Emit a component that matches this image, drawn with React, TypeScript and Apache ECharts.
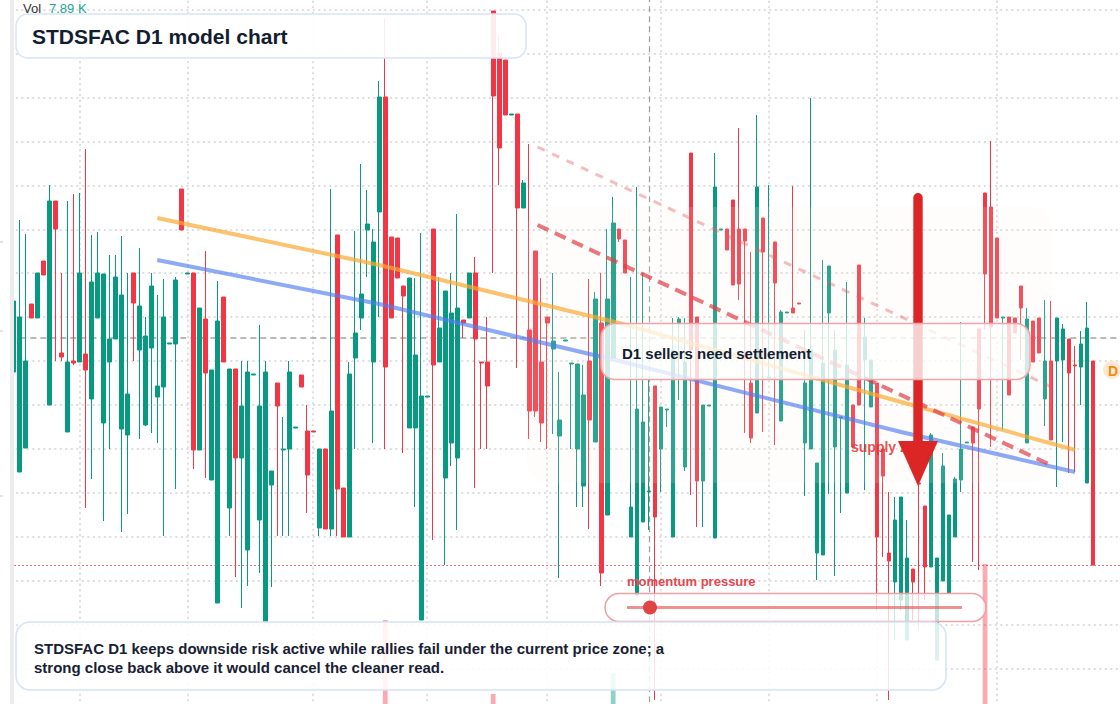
import React, { useEffect, useRef } from 'react';
import * as echarts from 'echarts';

// ---- candle data (bar 0 is the partially hidden first bar) ----
const opens = [
  42.8, 32.8, 35.2, 49.6, 48.2, 53.9, 39.5, 59.9, 44.7, 36.8,
  43.9, 43.8, 44.6, 40.1, 48.2, 37.7, 43.8, 46.1, 37.1, 36.5,
  52.7, 45.0, 37.5, 45.2, 40.3, 41.3, 45.6, 45.6, 61.1, 52.6,
  52.7, 35.0, 48.1, 32.0, 19.7, 50.3, 29.2, 43.1, 34.2, 25.0,
  42.5, 28.0, 17.8, 31.5, 41.7, 35.0, 35.1, 37.2, 42.5, 36.9,
  36.9, 27.2, 35.1, 27.1, 56.5, 31.2, 26.3, 44.2, 48.2, 57.0,
  43.8, 58.8, 70.3, 56.3, 56.2, 51.4, 37.2, 37.2, 18.0, 40.3,
  57.1, 43.8, 32.2, 35.7, 34.2, 48.0, 48.2, 52.7, 43.8, 43.8,
  78.9, 74.7, 74.0, 68.5, 68.6, 59.2, 47.0, 54.9, 43.8, 48.3,
  45.1, 36.4, 45.9, 43.6, 35.1, 31.4, 43.9, 35.8, 47.7, 28.5,
  44.2, 57.1, 56.0, 26.3, 20.5, 27.8, 30.8, 41.4, 35.1, 39.0,
  26.3, 47.6, 33.3, 64.7, 48.3, 31.9, 39.4, 26.2, 57.0, 57.1,
  60.0, 57.1, 57.1, 41.7, 38.7, 58.2, 42.2, 55.8, 37.9, 48.7,
  49.2, 49.7, 35.7, 35.1, 24.7, 24.5, 48.7, 35.3, 38.2, 30.7,
  39.5, 53.5, 44.0, 39.3, 41.7, 35.1, 24.7, 21.8, 20.0, 16.0,
  23.1, 31.7, 29.4, 23.3, 14.0, 21.9, 20.7, 26.3, 32.0, 35.7,
  37.3, 47.1, 60.7, 59.3, 56.2, 48.2, 48.3, 48.2, 51.4, 35.7,
  47.9, 48.2, 40.1, 43.9, 43.9, 44.0, 46.1, 43.5, 43.3, 31.7,
  43.9
];
const closes = [
  49.9, 48.3, 43.9, 48.2, 52.7, 52.5, 59.9, 57.1, 44.3, 43.8,
  43.7, 52.7, 43.0, 51.8, 52.7, 52.6, 46.1, 52.3, 50.5, 40.6,
  49.7, 49.4, 46.4, 51.4, 41.4, 48.3, 45.7, 52.0, 57.0, 52.7,
  35.0, 49.2, 42.7, 43.0, 47.9, 43.8, 43.1, 34.2, 39.4, 42.8,
  42.6, 39.4, 42.8, 32.9, 39.4, 35.1, 42.8, 37.3, 41.3, 32.5,
  36.8, 35.1, 27.1, 38.9, 31.1, 26.3, 42.6, 46.7, 50.6, 57.6,
  55.8, 70.3, 43.3, 48.2, 52.2, 50.4, 52.2, 44.5, 40.4, 40.4,
  43.5, 47.2, 50.9, 48.7, 49.2, 47.7, 52.7, 46.1, 43.7, 41.4,
  70.4, 65.2, 68.5, 68.6, 59.2, 61.7, 38.9, 38.9, 37.7, 47.7,
  45.9, 38.0, 46.0, 43.7, 43.6, 40.5, 38.0, 50.1, 22.7, 50.1,
  57.7, 56.1, 52.7, 29.3, 39.1, 37.8, 30.9, 28.3, 39.3, 39.1,
  45.0, 48.1, 43.8, 45.0, 31.9, 39.5, 39.5, 61.3, 57.1, 55.0,
  51.5, 51.6, 55.9, 36.2, 61.3, 54.8, 42.3, 51.7, 48.8, 48.8,
  48.7, 49.6, 41.7, 45.0, 33.7, 43.7, 53.4, 45.0, 38.3, 43.5,
  35.3, 39.5, 46.3, 44.0, 26.3, 32.4, 23.9, 28.0, 30.3, 24.2,
  21.8, 31.6, 23.3, 36.5, 24.2, 33.4, 28.5, 32.1, 35.1, 35.8,
  35.7, 39.1, 52.6, 47.3, 48.2, 48.3, 40.5, 46.7, 49.2, 48.1,
  43.8, 44.7, 43.9, 36.0, 48.2, 47.1, 42.7, 43.4, 45.6, 47.2,
  23.5
];
const lows = [
  42.8, 32.8, 35.2, 48.2, 48.2, 52.5, 39.5, 43.9, 43.9, 36.8,
  43.5, 43.8, 29.2, 32.1, 48.2, 27.9, 35.1, 46.1, 26.8, 28.6,
  43.9, 36.1, 37.4, 36.7, 35.7, 26.4, 45.6, 31.1, 57.0, 52.6,
  33.1, 35.0, 32.2, 32.0, 19.7, 43.8, 26.4, 22.3, 19.2, 21.4,
  42.5, 22.7, 17.8, 21.3, 26.4, 26.4, 26.4, 37.2, 41.3, 28.7,
  36.8, 26.4, 27.1, 26.4, 26.4, 26.3, 26.3, 35.1, 47.0, 52.3,
  35.7, 48.3, 35.1, 48.2, 52.2, 34.7, 37.2, 29.3, 18.0, 40.3,
  26.0, 43.8, 23.5, 33.4, 27.0, 46.2, 48.2, 31.2, 35.1, 35.1,
  52.7, 61.5, 68.5, 68.5, 43.2, 59.2, 36.1, 38.3, 35.8, 35.1,
  36.6, 22.2, 45.9, 35.1, 29.3, 29.3, 27.1, 35.8, 21.4, 28.5,
  44.2, 55.8, 52.7, 26.3, 20.5, 27.8, 27.0, 10.0, 30.8, 37.3,
  26.3, 40.0, 32.9, 30.5, 27.3, 27.3, 39.4, 26.2, 57.0, 55.0,
  51.5, 50.0, 36.7, 35.7, 38.7, 36.8, 42.2, 35.5, 37.9, 48.7,
  48.7, 49.6, 30.4, 35.1, 22.0, 24.5, 30.6, 22.4, 28.7, 30.7,
  35.3, 39.5, 31.0, 39.3, 19.0, 24.3, 10.0, 16.0, 19.0, 16.0,
  18.0, 17.0, 20.0, 23.3, 14.0, 21.9, 20.7, 26.3, 30.8, 35.7,
  23.8, 23.0, 47.0, 35.3, 48.2, 37.0, 40.5, 46.7, 44.0, 35.7,
  43.8, 44.7, 37.4, 36.0, 31.3, 35.8, 32.7, 32.8, 39.5, 31.7,
  23.5
];
const highs = [
  49.9, 58.0, 56.6, 49.6, 52.7, 53.9, 61.5, 59.9, 52.7, 59.9,
  60.6, 60.7, 65.1, 56.5, 56.8, 52.6, 54.5, 54.5, 56.4, 52.7,
  52.7, 55.2, 48.3, 52.7, 50.5, 52.1, 45.7, 52.3, 61.1, 52.7,
  52.7, 49.2, 54.9, 43.0, 51.9, 50.3, 43.1, 43.1, 43.9, 43.9,
  42.6, 47.5, 43.9, 32.9, 41.7, 38.3, 43.9, 37.3, 42.5, 39.5,
  36.9, 35.1, 35.1, 61.1, 56.5, 31.2, 43.8, 56.9, 63.6, 61.0,
  57.1, 71.9, 78.2, 56.3, 56.2, 51.4, 52.2, 52.2, 56.7, 40.4,
  57.1, 52.3, 50.9, 52.7, 58.6, 48.0, 52.7, 54.3, 43.8, 48.3,
  78.9, 76.5, 74.0, 68.6, 68.6, 62.0, 65.6, 54.9, 52.2, 48.3,
  52.7, 42.8, 46.0, 43.7, 43.6, 43.5, 52.1, 50.8, 52.7, 57.1,
  60.3, 57.1, 56.0, 52.3, 61.3, 52.7, 42.0, 41.4, 39.3, 39.1,
  48.2, 48.3, 48.2, 64.7, 48.3, 39.5, 39.5, 64.7, 57.1, 57.1,
  60.0, 67.2, 57.1, 54.8, 68.5, 58.2, 61.5, 55.8, 49.0, 48.8,
  61.4, 49.7, 47.0, 70.2, 33.7, 54.0, 53.4, 47.0, 38.3, 51.8,
  39.5, 53.5, 48.2, 44.0, 41.7, 35.1, 30.8, 30.3, 30.3, 28.0,
  23.1, 31.7, 29.4, 36.7, 24.2, 34.7, 28.5, 32.3, 47.8, 35.8,
  37.3, 47.1, 60.7, 65.9, 56.2, 48.3, 48.3, 48.2, 51.4, 49.2,
  47.9, 48.2, 50.0, 49.9, 48.2, 47.6, 46.1, 45.4, 46.9, 49.8,
  43.9
];
// volume in thousands
const volumes = [
  3.2, 4.1, 3.6, 2.8, 3.9, 2.5, 5.2, 3.4, 2.9, 4.4,
  3.1, 4.8, 6.3, 4.0, 3.3, 5.1, 3.7, 3.0, 4.6, 3.8,
  2.7, 4.2, 3.5, 3.9, 2.6, 4.7, 2.2, 3.6, 5.5, 2.4,
  5.8, 4.3, 4.9, 3.8, 6.6, 3.4, 4.1, 5.0, 4.5, 5.3,
  2.3, 4.6, 6.9, 3.2, 3.7, 3.1, 4.0, 2.5, 2.9, 4.2,
  2.1, 4.4, 4.8, 5.6, 6.2, 3.5, 5.9, 3.3, 4.7, 2.8,
  5.4, 7.1, 12.2, 4.9, 3.6, 3.0, 4.5, 3.9, 7.4, 2.4,
  6.0, 3.2, 5.2, 4.3, 4.8, 2.6, 3.4, 4.4, 2.3, 3.7,
  8.5, 6.8, 4.6, 2.7, 5.7, 3.0, 6.1, 5.5, 3.9, 2.9,
  3.5, 4.7, 2.5, 2.8, 4.1, 4.9, 4.0, 3.6, 7.3, 6.5,
  9.55, 3.3, 3.8, 4.6, 7.0, 5.1, 7.89, 6.4, 3.7, 2.4,
  5.6, 2.9, 4.8, 6.9, 5.3, 3.9, 2.2, 6.7, 2.6, 3.1,
  4.9, 5.0, 3.4, 4.5, 6.2, 3.6, 3.8, 4.3, 4.0, 2.5,
  3.9, 2.3, 4.4, 6.0, 5.4, 6.6, 4.2, 5.7, 2.9, 5.0,
  3.8, 5.9, 3.3, 3.5, 6.8, 4.1, 6.3, 5.2, 5.8, 4.7,
  3.2, 4.4, 5.1, 6.1, 6.4, 4.6, 5.5, 4.3, 3.6, 2.7,
  4.8, 5.6, 15.0, 6.2, 5.0, 3.1, 4.5, 3.4, 3.9, 4.6,
  3.7, 3.5, 4.2, 5.3, 3.8, 3.6, 4.1, 3.0, 3.3, 4.9,
  6.0
];

// reference marks (bar index / price)
const monthStartBars = [11, 29, 50, 69, 89, 108, 126, 144, 164];
const crosshairBar = 106;
const referenceLevel = 46.2;
const orangeTrend = [[24, 58.2], [61, 53.5], [101, 47.7], [148, 39.8], [177, 35.0]];
const blueTrend = [[24, 54.0], [61, 49.6], [101, 43.9], [148, 36.8], [177, 32.8]];
const redChannel = [[87.4, 57.5], [173.3, 33.4]];
const paleChannel = [[87.4, 65.3], [173.1, 41.3]];
const PAD_BARS = 4;

// texts
const titleText = 'STDSFAC D1 model chart';
const calloutText = 'D1 sellers need settlement';
const momentumText = 'momentum pressure';
const zoneText = 'supply zone';
const volValueText = '7.89 K';
const noteLines = [
  'STDSFAC D1 keeps downside risk active while rallies fail under the current price zone; a',
  'strong close back above it would cancel the cleaner read.',
];

const categories: string[] = (() => {
  const out: string[] = [];
  const d = new Date(Date.UTC(2024, 6, 1));
  while (out.length < opens.length + PAD_BARS) {
    const wd = d.getUTCDay();
    if (wd !== 0 && wd !== 6) out.push(d.toISOString().slice(0, 10));
    d.setUTCDate(d.getUTCDate() + 1);
  }
  return out;
})();

const UP = '#089981';
const DOWN = '#f23645';
const FONT = '"Liberation Sans", Arial, Helvetica, sans-serif';

export default function App() {
  const ref = useRef<HTMLDivElement>(null);

  useEffect(() => {
    if (!ref.current) return;
    const chart = echarts.init(ref.current, null, { renderer: 'svg' });
    const candleData = opens.map((o, i) => [o, closes[i], lows[i], highs[i]]);
    const volData = volumes.map((v, i) => ({
      value: v,
      itemStyle: { color: closes[i] >= opens[i] ? 'rgba(8,153,129,0.45)' : 'rgba(242,54,69,0.42)' },
    }));
    const lastClose = closes[closes.length - 1];

    const gridLine = { color: '#d2d2d2', type: [2, 3.5], width: 1.5 };
    const markData: any[] = [
      ...monthStartBars.map((b) => ({ xAxis: categories[b], lineStyle: gridLine })),
      { xAxis: categories[crosshairBar], lineStyle: { color: '#9c9c9c', type: [6, 4], width: 1.2 } },
      { yAxis: referenceLevel, lineStyle: { color: '#a3a3a3', type: [6, 4], width: 1.5 } },
      { yAxis: lastClose, lineStyle: { color: '#e0474c', type: [1.5, 2.5], width: 1 } },
    ];

    const txt = (x: number, y: number, text: string, font: string, fill: string, z: number, align = 'left') => ({
      type: 'text', x, y, z, silent: true,
      style: { text, font, fill, align, verticalAlign: 'middle' },
    });

    const graphic: any[] = [
      // supply zone tint
      { type: 'rect', z: 3, silent: true, shape: { x: 527, y: 207, width: 525, height: 276, r: 22 },
        style: { fill: 'rgba(252,238,225,0.14)' } },
      txt(851, 447, zoneText, `bold 14px ${FONT}`, 'rgba(226,52,52,0.85)', 5),
      // arrow
      { type: 'rect', z: 6, silent: true, shape: { x: 913.3, y: 193, width: 9.4, height: 252, r: [4.7, 4.7, 0, 0] },
        style: { fill: '#dc2626' } },
      { type: 'polygon', z: 6, silent: true, shape: { points: [[898, 441], [938, 441], [918, 486]] },
        style: { fill: '#dc2626' } },
      // title box
      { type: 'rect', z: 20, silent: true, shape: { x: 16, y: 14, width: 510, height: 44, r: 12 },
        style: { fill: 'rgba(255,255,255,0.9)', stroke: '#d9e4f7', lineWidth: 1.5 } },
      txt(32, 36, titleText, `bold 21px ${FONT}`, '#131d30', 21),
      // callout box
      { type: 'rect', z: 20, silent: true, shape: { x: 601, y: 323.5, width: 429, height: 56, r: 14 },
        style: { fill: 'rgba(255,255,255,0.78)', stroke: '#f1a4a7', lineWidth: 1.5 } },
      txt(622, 353, calloutText, `bold 15px ${FONT}`, '#131d30', 21),
      // momentum
      txt(627, 581, momentumText, `bold 13px ${FONT}`, '#e3474d', 21),
      { type: 'rect', z: 20, silent: true, shape: { x: 605, y: 593.5, width: 381, height: 28, r: 14 },
        style: { fill: 'rgba(255,255,255,0.75)', stroke: '#f1a0a3', lineWidth: 1.5 } },
      { type: 'line', z: 21, silent: true, shape: { x1: 627, y1: 607.5, x2: 962, y2: 607.5 },
        style: { stroke: 'rgba(226,72,72,0.6)', lineWidth: 3 } },
      { type: 'circle', z: 22, silent: true, shape: { cx: 650, cy: 607.5, r: 7 }, style: { fill: '#e04444' } },
      // note box
      { type: 'rect', z: 20, silent: true, shape: { x: 16, y: 622, width: 930, height: 68, r: 14 },
        style: { fill: 'rgba(255,255,255,0.86)', stroke: '#d6e2f6', lineWidth: 1.5 } },
      txt(34, 648, noteLines[0], `bold 15px ${FONT}`, '#172133', 21),
      txt(34, 667.5, noteLines[1], `bold 15px ${FONT}`, '#172133', 21),
      // volume label
      txt(23, 8.5, 'Vol', `13px ${FONT}`, '#333333', 21),
      txt(49, 8.5, volValueText, `13px ${FONT}`, '#22a893', 21),
      // D badge
      { type: 'circle', z: 21, silent: true, shape: { cx: 1112, cy: 370, r: 9 }, style: { fill: '#fde9d2' } },
      txt(1113, 370.5, 'D', `bold 14px ${FONT}`, '#f28c0f', 22, 'center'),
      // left strip + tiny marks
      { type: 'rect', z: 60, silent: true, shape: { x: 10, y: 0, width: 4, height: 720 }, style: { fill: '#ececec' } },
      ...[242, 331, 496].map((y) => ({ type: 'line', z: 60, silent: true,
        shape: { x1: 0, y1: y, x2: 3, y2: y }, style: { stroke: '#c4c4c4', lineWidth: 1 } })),
    ];

    const option: any = {
      animation: false,
      backgroundColor: '#ffffff',
      grid: [
        { left: 10.33, right: 0, top: 0, bottom: 7.8, outerBoundsMode: 'none', containLabel: false },
        { left: 10.33, right: 0, top: 424, bottom: 16, outerBoundsMode: 'none', containLabel: false },
      ],
      xAxis: [
        { type: 'category', gridIndex: 0, data: categories, boundaryGap: true,
          axisLine: { show: false }, axisTick: { show: false }, axisLabel: { show: false }, splitLine: { show: false } },
        { type: 'category', gridIndex: 1, data: categories, boundaryGap: true, show: false },
        { type: 'value', gridIndex: 0, min: -0.5, max: opens.length + PAD_BARS - 0.5, show: false,
          splitLine: { show: false } },
      ],
      yAxis: [
        { type: 'value', gridIndex: 0, min: 8.78, max: 80, interval: 4.39, scale: true,
          axisLine: { show: false }, axisTick: { show: false }, axisLabel: { show: false },
          splitLine: { show: true, showMaxLine: false, showMinLine: false, lineStyle: gridLine } },
        { type: 'value', gridIndex: 1, min: 8, max: 22, show: false, splitLine: { show: false } },
      ],
      series: [
        {
          type: 'bar', name: 'Volume', xAxisIndex: 1, yAxisIndex: 1, data: volData,
          barWidth: 4.8, z: 1, silent: true,
        },
        {
          type: 'candlestick', name: 'STDSFAC', xAxisIndex: 0, yAxisIndex: 0, data: candleData,
          barWidth: 4.2, z: 2, silent: true,
          itemStyle: { color: UP, color0: DOWN, borderColor: UP, borderColor0: DOWN, borderWidth: 1 },
          markLine: { silent: true, z: 1, symbol: ['none', 'none'], label: { show: false },
            animation: false, data: markData },
        },
        { type: 'line', xAxisIndex: 2, yAxisIndex: 0, data: orangeTrend, symbol: 'none', z: 4, silent: true,
          lineStyle: { color: 'rgba(250,170,50,0.7)', width: 4 } },
        { type: 'line', xAxisIndex: 2, yAxisIndex: 0, data: blueTrend, symbol: 'none', z: 4, silent: true,
          lineStyle: { color: 'rgba(80,125,240,0.65)', width: 4 } },
        { type: 'line', xAxisIndex: 2, yAxisIndex: 0, data: paleChannel, symbol: 'none', z: 4, silent: true,
          lineStyle: { color: 'rgba(230,90,100,0.4)', width: 3, type: [8, 8] } },
        { type: 'line', xAxisIndex: 2, yAxisIndex: 0, data: redChannel, symbol: 'none', z: 4, silent: true,
          lineStyle: { color: 'rgba(225,60,70,0.7)', width: 4, type: [12, 7] } },
      ],
      graphic,
    };
    chart.setOption(option);
    return () => chart.dispose();
  }, []);

  return (
    <div
      ref={ref}
      style={{ position: 'fixed', left: 0, top: 0, width: 1120, height: 720, background: '#ffffff' }}
    />
  );
}
